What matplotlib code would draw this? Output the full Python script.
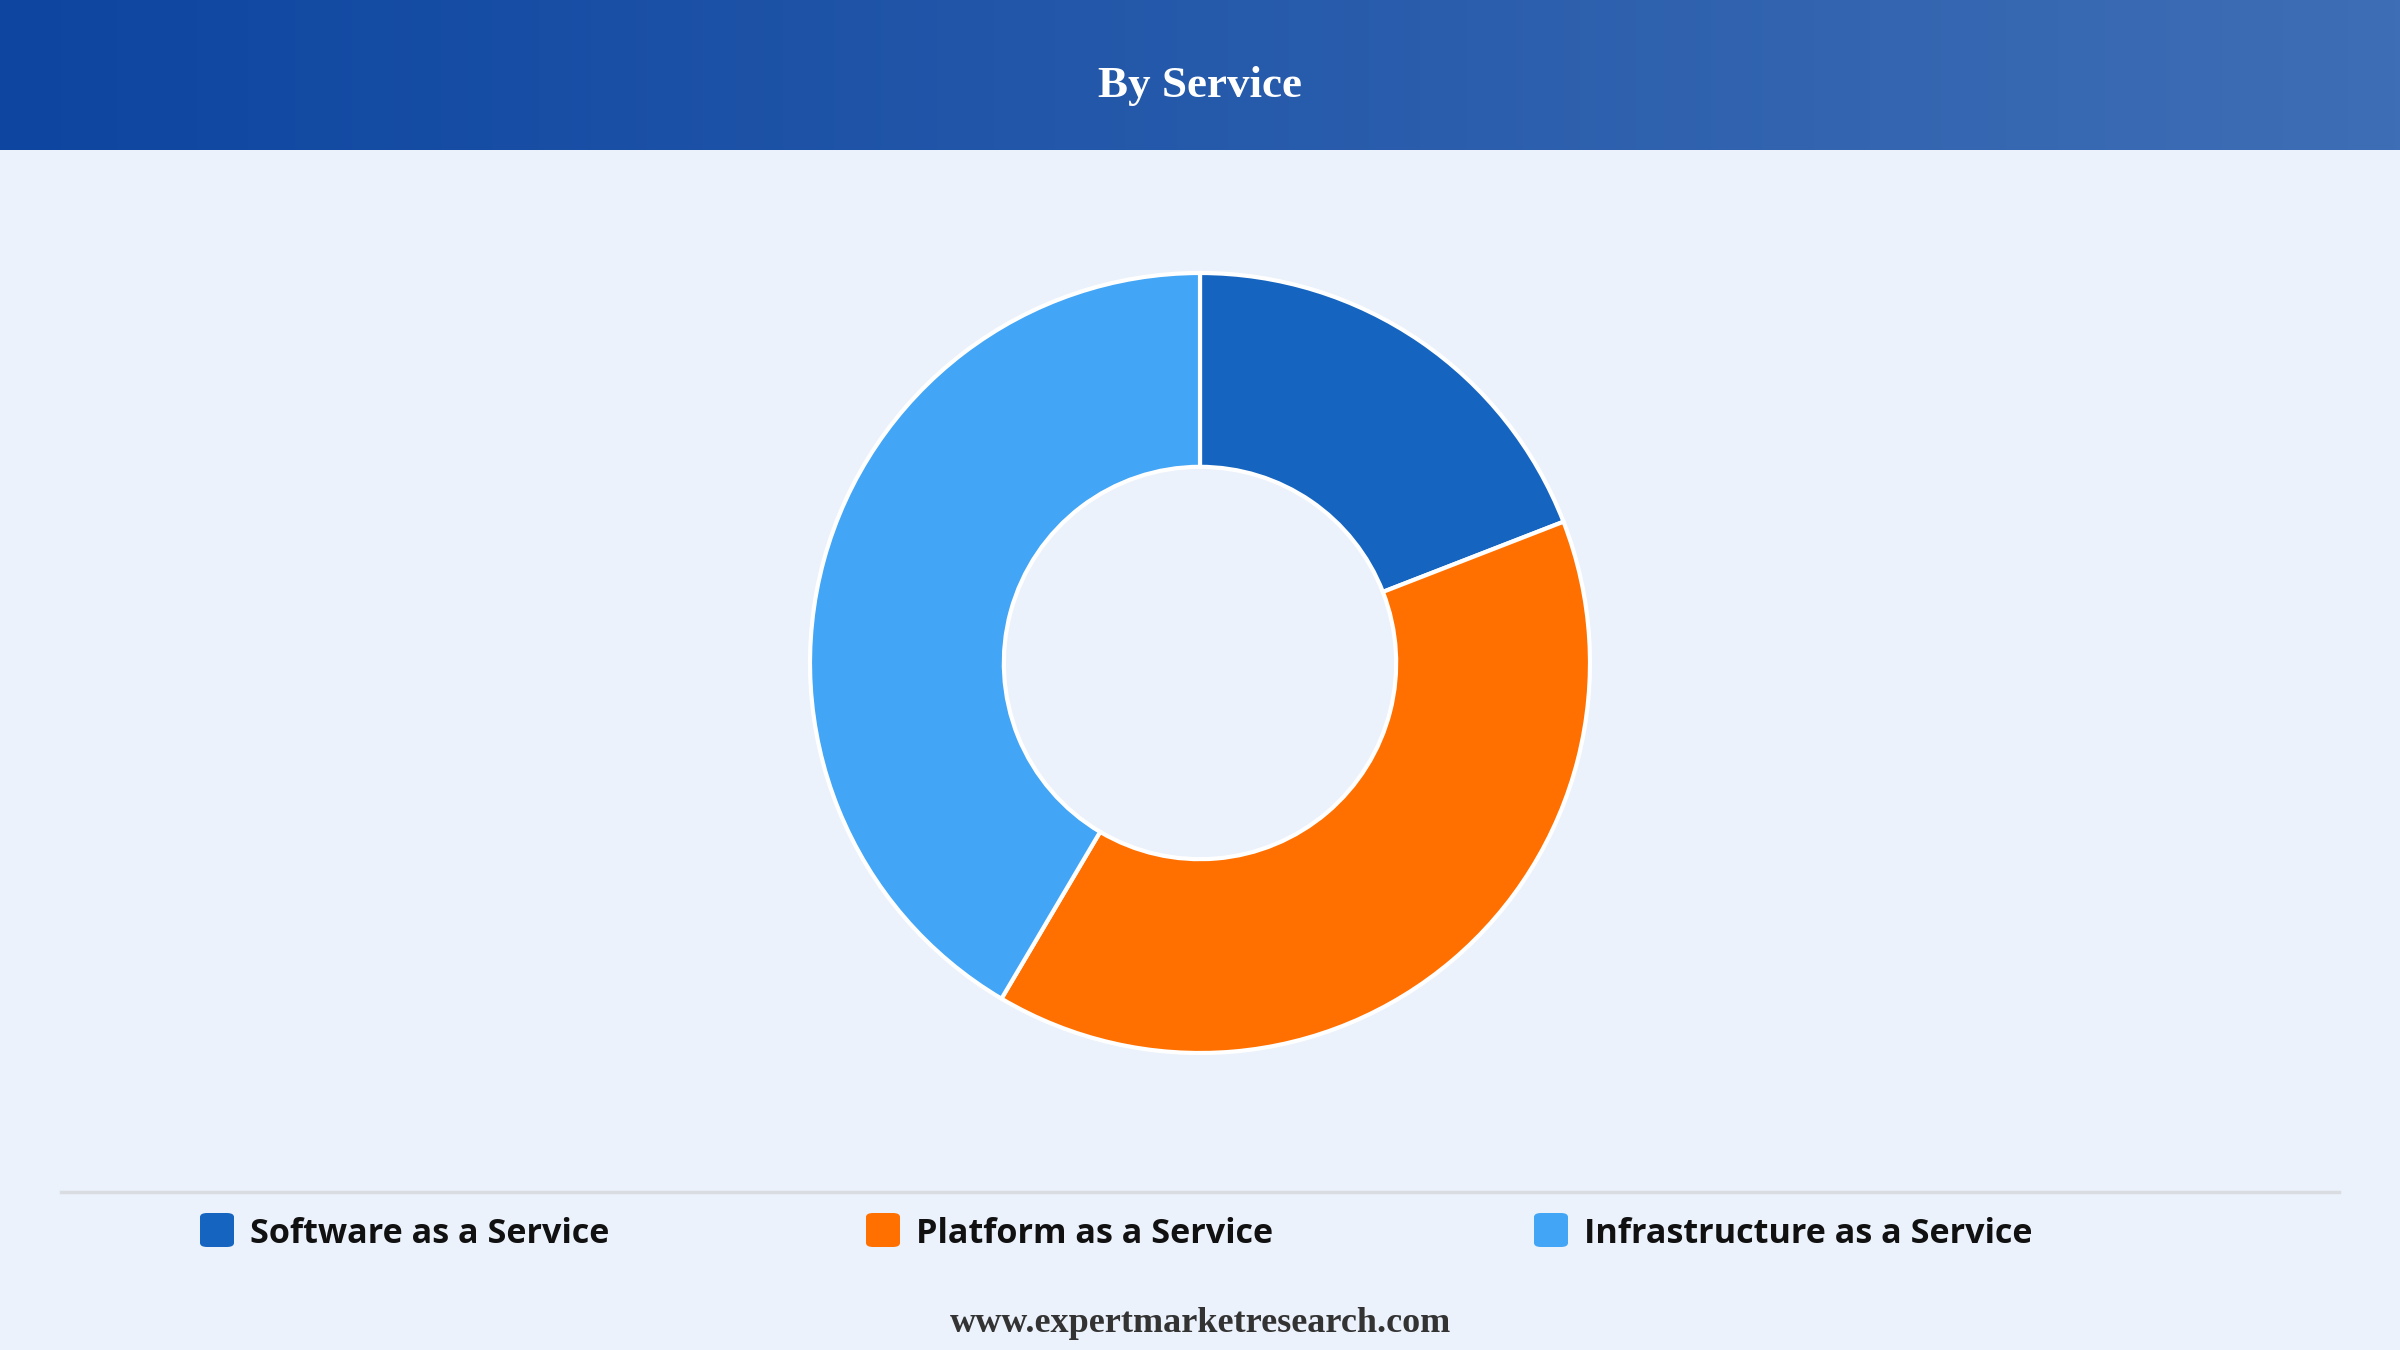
import matplotlib
matplotlib.use("Agg")
import matplotlib.pyplot as plt
import numpy as np
from matplotlib.patches import FancyBboxPatch

categories = ["Software as a Service", "Platform as a Service", "Infrastructure as a Service"]
shares = [19.1, 39.4, 41.5]
colors = ["#1565C0", "#FF7000", "#42A5F5"]
title = "By Service"
footer = "www.expertmarketresearch.com"

W, H = 2400, 1350
bg = "#EBF2FB"
fig = plt.figure(figsize=(24, 13.5), dpi=100, facecolor=bg)

# header gradient
hax = fig.add_axes([0, 1 - 150 / H, 1, 150 / H])
c0 = np.array([13, 69, 160]) / 255
c1 = np.array([62, 110, 181]) / 255
t = np.linspace(0, 1, 512)
grad = (c0[None, :] * (1 - t[:, None]) + c1[None, :] * t[:, None])[None, :, :]
hax.imshow(grad, aspect="auto", extent=[0, 1, 0, 1])
hax.set_axis_off()
hax.text(0.5, 0.43, title, ha="center", va="center", color="white",
         fontsize=32.5, fontweight="bold", family="Liberation Serif")

# donut
R = 390
side = 900
cx, cy = 1200, 663
ax = fig.add_axes([(cx - side / 2) / W, (H - cy - side / 2) / H, side / W, side / H])
ax.set_facecolor(bg)
ax.pie(shares, colors=colors, startangle=90, counterclock=False, radius=1.0,
       wedgeprops=dict(width=0.497, edgecolor="white", linewidth=3.0))
lim = side / 2 / R
ax.set_xlim(-lim, lim)
ax.set_ylim(-lim, lim)
ax.set_aspect("equal")
ax.set_axis_off()

# separator line
fig.add_artist(plt.Line2D([61 / W, 2339 / W], [1 - 1192 / H, 1 - 1192 / H],
                          color="#D9DDE2", linewidth=2.5, transform=fig.transFigure))

# legend
xs = [200, 866, 1534]
ly = 1230
for x, lab, col in zip(xs, categories, colors):
    box = FancyBboxPatch((x / W, 1 - (ly + 17) / H), 34 / W, 34 / H,
                         boxstyle="round,pad=0,rounding_size=0.003",
                         transform=fig.transFigure, facecolor=col, edgecolor="none")
    fig.add_artist(box)
    fig.text((x + 50) / W, 1 - (ly + 4) / H, lab, ha="left", va="center",
             fontsize=24.6, fontweight="bold", family="Open Sans", color="#111111")

fig.text(0.5, 1 - 1323 / H, footer, ha="center", va="center", color="#333333",
         fontsize=26, fontweight="bold", family="Liberation Serif")

fig.savefig("out.png", dpi=100, facecolor=bg)
